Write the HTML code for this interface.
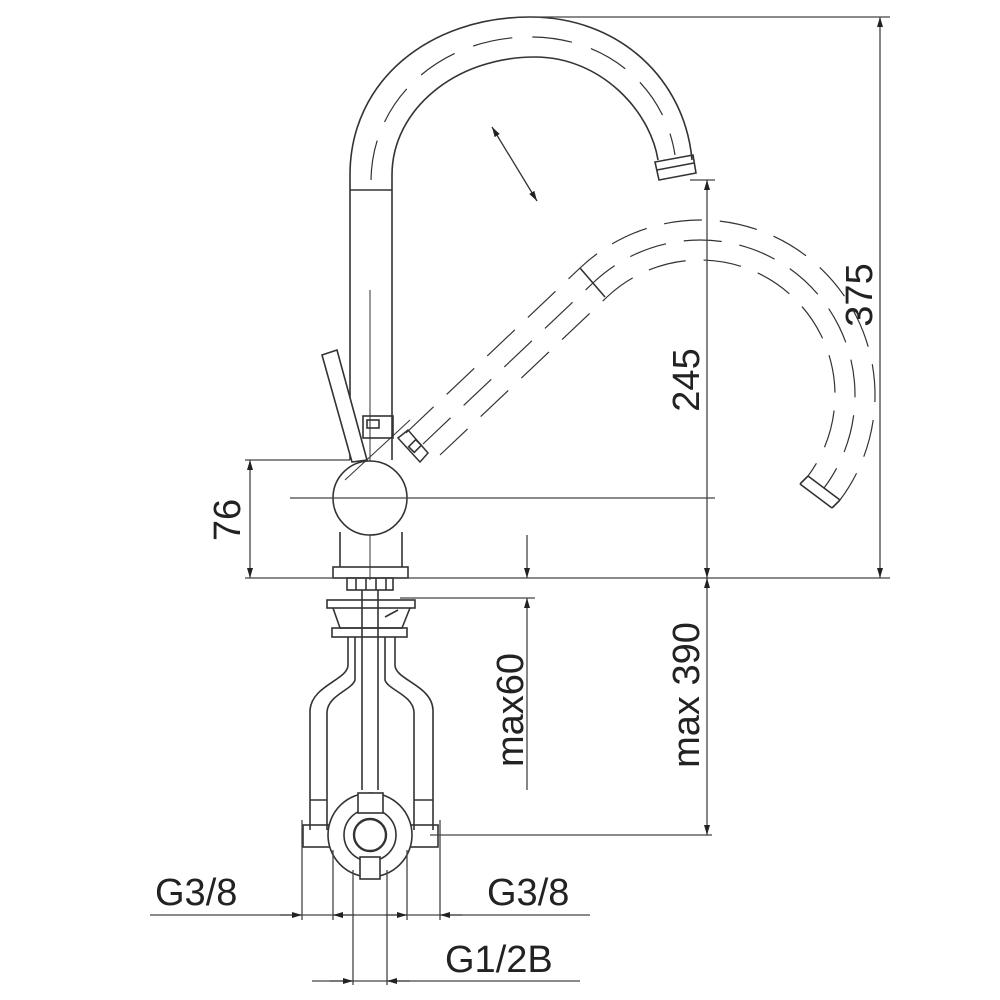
<!DOCTYPE html>
<html><head><meta charset="utf-8"><style>html,body{margin:0;padding:0;background:#fff}svg{display:block}</style></head>
<body>
<svg width="1000" height="1000" viewBox="0 0 1000 1000" xmlns="http://www.w3.org/2000/svg">
<defs>
<marker id="a" viewBox="0 0 10 10" refX="10" refY="5" markerWidth="14" markerHeight="10" markerUnits="userSpaceOnUse" orient="auto-start-reverse"><path d="M0,2 L10,5 L0,8 z" fill="#222"/></marker>
</defs>
<g fill="none" stroke="#333" stroke-width="1.6">
<!-- spout -->
<path d="M350,190 L350,175 C350,80 430,17 530,17 C620,17 685,80 692,160"/>
<path d="M392,190 L392,175 C392,110 455,57 535,57 C600,57 650,110 658,160"/>
<path d="M371,180 C372,100 440,37 530,37 C610,37 665,90 675,155" stroke-dasharray="40,20" stroke-width="1.2"/>
<path d="M655,162 L693,155 L696,173 L659,180 z"/>
<path d="M657,170 L694,163"/>
<line x1="350" y1="190" x2="392" y2="190"/>
<line x1="350" y1="190" x2="350" y2="460"/>
<line x1="392" y1="190" x2="392" y2="460"/>
<line x1="370" y1="290" x2="370" y2="580" stroke-width="1"/>
<rect x="363" y="416" width="30" height="22"/>
<rect x="367" y="420" width="12" height="8"/>
<!-- lever -->
<path d="M322,355 L337,350 L367,460 L352,462 z" fill="#fff"/>
<!-- ball -->
<circle cx="370" cy="498" r="37" fill="#fff"/>
<line x1="340" y1="532" x2="340" y2="567"/>
<line x1="402" y1="532" x2="402" y2="567"/>
<rect x="333" y="567" width="75" height="11"/>
<!-- arrow double -->
<line x1="492" y1="127" x2="537" y2="201" marker-start="url(#a)" marker-end="url(#a)" stroke-width="1.3"/>
<!-- dashed alt spout -->
<g stroke-width="1.2" stroke-dasharray="38,18">
<path d="M406,433 L580,268 A175,175 0 0 1 700,220 A175,175 0 0 1 840,500"/>
<path d="M423,444 L594,282 A155,155 0 0 1 700,240 A155,155 0 0 1 824,488"/>
<path d="M440,455 L607,297 A135,135 0 0 1 700,260 A135,135 0 0 1 808,476"/>
</g>
<path d="M398,438 L420,462 L428,453 L408,430 z" stroke-width="1.5"/>
<rect x="410" y="442" width="10" height="8" transform="rotate(-45 415 446)"/>
<path d="M580,268 L605,297"/>
<path d="M808,476 L840,500 M800,484 L832,508 M808,476 L800,484 M840,500 L832,508"/>
<line x1="345" y1="480" x2="410" y2="420" stroke-width="1"/>
<!-- lower fixture -->
<rect x="347" y="578" width="46" height="12"/>
<line x1="356" y1="578" x2="356" y2="590"/><line x1="366" y1="578" x2="366" y2="590"/><line x1="376" y1="578" x2="376" y2="590"/><line x1="386" y1="578" x2="386" y2="590"/>
<rect x="327" y="600" width="88" height="8"/>
<path d="M333,608 L340,628 L402,628 L410,608"/>
<rect x="332" y="628" width="75" height="9"/>
<line x1="385" y1="617" x2="398" y2="610"/>
<line x1="362" y1="590" x2="362" y2="790"/><line x1="378" y1="590" x2="378" y2="790"/>
<path d="M348,637 L348,665 C348,680 312,685 310,710 L310,830"/>
<path d="M355,637 L355,680 C352,690 328,695 327,712 L327,830"/>
<path d="M395,637 L395,665 C395,680 432,685 433,710 L433,830"/>
<path d="M385,637 L385,680 C388,690 413,695 414,712 L414,830"/>
<line x1="310" y1="800" x2="327" y2="800"/><line x1="414" y1="800" x2="433" y2="800"/>
<rect x="303" y="825" width="30" height="22"/><rect x="410" y="825" width="28" height="22"/>
<circle cx="370" cy="835" r="42" fill="#fff"/>
<circle cx="370" cy="835" r="26"/>
<circle cx="370" cy="835" r="16" stroke-width="2.4"/>
<rect x="358" y="793" width="25" height="20" fill="#fff"/>
<rect x="360" y="857" width="20" height="22" fill="#fff"/>
</g>
<!-- dimensions -->
<g stroke="#444" stroke-width="1.3" fill="none">
<line x1="540" y1="17" x2="890" y2="17"/>
<line x1="880" y1="17" x2="880" y2="578" marker-start="url(#a)" marker-end="url(#a)"/>
<line x1="245" y1="578" x2="890" y2="578"/>
<line x1="690" y1="180" x2="715" y2="180"/>
<line x1="707" y1="180" x2="707" y2="578" marker-start="url(#a)" marker-end="url(#a)"/>
<line x1="707" y1="578" x2="707" y2="835" marker-start="url(#a)" marker-end="url(#a)"/>
<line x1="290" y1="498" x2="715" y2="498"/>
<line x1="245" y1="460" x2="350" y2="460"/>
<line x1="250" y1="460" x2="250" y2="578" marker-start="url(#a)" marker-end="url(#a)"/>
<line x1="527" y1="535" x2="527" y2="578" marker-end="url(#a)"/>
<line x1="527" y1="790" x2="527" y2="598" marker-end="url(#a)"/>
<line x1="400" y1="598" x2="535" y2="598"/>
<line x1="430" y1="835" x2="712" y2="835"/>
<line x1="150" y1="915" x2="590" y2="915"/>
<line x1="302" y1="820" x2="302" y2="920"/><line x1="333" y1="850" x2="333" y2="920"/>
<line x1="407" y1="850" x2="407" y2="920"/><line x1="440" y1="820" x2="440" y2="920"/>
<line x1="353" y1="870" x2="353" y2="985"/><line x1="387" y1="870" x2="387" y2="985"/>
<line x1="312" y1="981" x2="580" y2="981"/>
<line x1="280" y1="915" x2="302" y2="915" marker-end="url(#a)"/>
<line x1="355" y1="915" x2="333" y2="915" marker-end="url(#a)"/>
<line x1="385" y1="915" x2="407" y2="915" marker-end="url(#a)"/>
<line x1="462" y1="915" x2="440" y2="915" marker-end="url(#a)"/>
<line x1="330" y1="981" x2="353" y2="981" marker-end="url(#a)"/>
<line x1="410" y1="981" x2="387" y2="981" marker-end="url(#a)"/>
</g>
<g font-family="Liberation Sans, sans-serif" font-size="38" fill="#222">
<text x="155" y="905">G3/8</text>
<text x="487" y="905">G3/8</text>
<text x="445" y="972">G1/2B</text>
<text transform="translate(240,520) rotate(-90)" text-anchor="middle">76</text>
<text transform="translate(699,380) rotate(-90)" text-anchor="middle">245</text>
<text transform="translate(872,295) rotate(-90)" text-anchor="middle">375</text>
<text transform="translate(523,710) rotate(-90)" text-anchor="middle">max60</text>
<text transform="translate(699,695) rotate(-90)" text-anchor="middle">max 390</text>
</g>
</svg>
</body></html>
